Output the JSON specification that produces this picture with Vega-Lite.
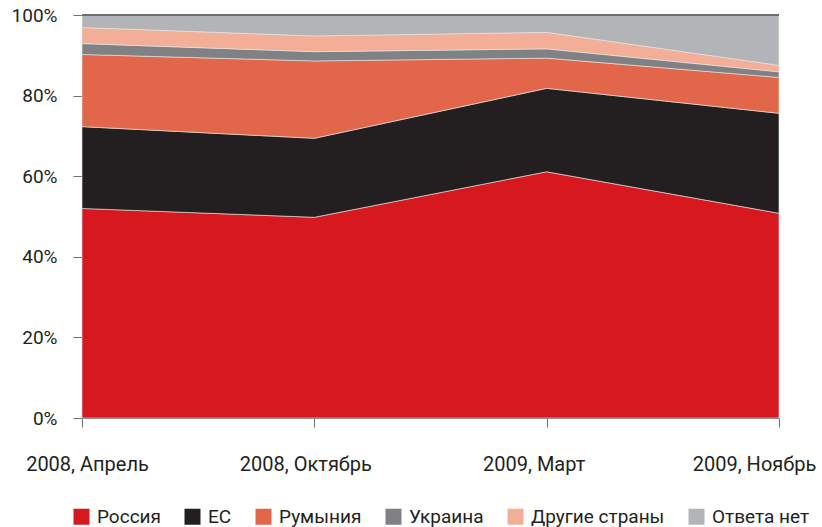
{
  "$schema": "https://vega.github.io/schema/vega-lite/v6.json",
  "width": 697,
  "height": 403,
  "autosize": {"type": "none"},
  "padding": {"left": 82, "top": 15, "right": 43, "bottom": 109},
  "background": "#ffffff",
  "config": {
    "view": {"stroke": null},
    "font": "Roboto, sans-serif"
  },
  "data": {
    "values": [
      {"period": "2008, Апрель", "country": "Россия", "rank": 1, "value": 52.0},
      {"period": "2008, Апрель", "country": "ЕС", "rank": 2, "value": 20.3},
      {"period": "2008, Апрель", "country": "Румыния", "rank": 3, "value": 17.9},
      {"period": "2008, Апрель", "country": "Украина", "rank": 4, "value": 2.7},
      {"period": "2008, Апрель", "country": "Другие страны", "rank": 5, "value": 4.0},
      {"period": "2008, Апрель", "country": "Ответа нет", "rank": 6, "value": 3.1},
      {"period": "2008, Октябрь", "country": "Россия", "rank": 1, "value": 49.8},
      {"period": "2008, Октябрь", "country": "ЕС", "rank": 2, "value": 19.6},
      {"period": "2008, Октябрь", "country": "Румыния", "rank": 3, "value": 19.2},
      {"period": "2008, Октябрь", "country": "Украина", "rank": 4, "value": 2.3},
      {"period": "2008, Октябрь", "country": "Другие страны", "rank": 5, "value": 3.9},
      {"period": "2008, Октябрь", "country": "Ответа нет", "rank": 6, "value": 5.2},
      {"period": "2009, Март", "country": "Россия", "rank": 1, "value": 61.1},
      {"period": "2009, Март", "country": "ЕС", "rank": 2, "value": 20.7},
      {"period": "2009, Март", "country": "Румыния", "rank": 3, "value": 7.5},
      {"period": "2009, Март", "country": "Украина", "rank": 4, "value": 2.3},
      {"period": "2009, Март", "country": "Другие страны", "rank": 5, "value": 4.1},
      {"period": "2009, Март", "country": "Ответа нет", "rank": 6, "value": 4.3},
      {"period": "2009, Ноябрь", "country": "Россия", "rank": 1, "value": 50.8},
      {"period": "2009, Ноябрь", "country": "ЕС", "rank": 2, "value": 24.8},
      {"period": "2009, Ноябрь", "country": "Румыния", "rank": 3, "value": 8.9},
      {"period": "2009, Ноябрь", "country": "Украина", "rank": 4, "value": 1.4},
      {"period": "2009, Ноябрь", "country": "Другие страны", "rank": 5, "value": 1.6},
      {"period": "2009, Ноябрь", "country": "Ответа нет", "rank": 6, "value": 12.5}
    ]
  },
  "layer": [
    {
      "mark": {"type": "area", "stroke": "#e8e8e8", "strokeWidth": 0.6},
      "encoding": {
        "x": {
          "field": "period",
          "type": "ordinal",
          "sort": ["2008, Апрель", "2008, Октябрь", "2009, Март", "2009, Ноябрь"],
          "scale": {"type": "point", "padding": 0},
          "axis": {
            "title": null,
            "labelAngle": 0,
            "labelFontSize": 20,
            "labelColor": "#231f20",
            "labelPadding": 27,
            "tickSize": 9,
            "tickColor": "#6d6e71",
            "domainColor": "#6d6e71",
            "labelOffset": {"expr": "datum.value == '2009, Ноябрь' ? -25 : datum.value == '2009, Март' ? -13 : datum.value == '2008, Октябрь' ? -9 : 5"}
          }
        },
        "y": {
          "field": "value",
          "type": "quantitative",
          "stack": "zero",
          "scale": {"domain": [0, 100], "nice": false},
          "axis": {
            "title": null,
            "values": [0, 20, 40, 60, 80, 100],
            "labelExpr": "datum.value + '%'",
            "grid": false,
            "labelFontSize": 19,
            "labelColor": "#231f20",
            "labelPadding": 16,
            "tickSize": 9,
            "tickColor": "#6d6e71",
            "domainColor": "#6d6e71"
          }
        },
        "color": {
          "field": "country",
          "type": "nominal",
          "sort": ["Россия", "ЕС", "Румыния", "Украина", "Другие страны", "Ответа нет"],
          "scale": {
            "domain": ["Россия", "ЕС", "Румыния", "Украина", "Другие страны", "Ответа нет"],
            "range": ["#d7191f", "#231f20", "#e2674a", "#808184", "#f2ae96", "#b3b4b7"]
          },
          "legend": {
            "title": null,
            "orient": "none",
            "direction": "horizontal",
            "legendX": -10,
            "legendY": 492,
            "symbolType": "square",
            "symbolSize": 256,
            "symbolStrokeWidth": 0,
            "labelFontSize": 19,
            "labelColor": "#231f20",
            "labelOffset": 6,
            "columnPadding": 22
          }
        },
        "order": {"field": "rank", "type": "quantitative"}
      }
    },
    {
      "mark": {"type": "rule", "color": "#6d6e71", "strokeWidth": 1},
      "encoding": {"y": {"datum": 100}}
    }
  ]
}
